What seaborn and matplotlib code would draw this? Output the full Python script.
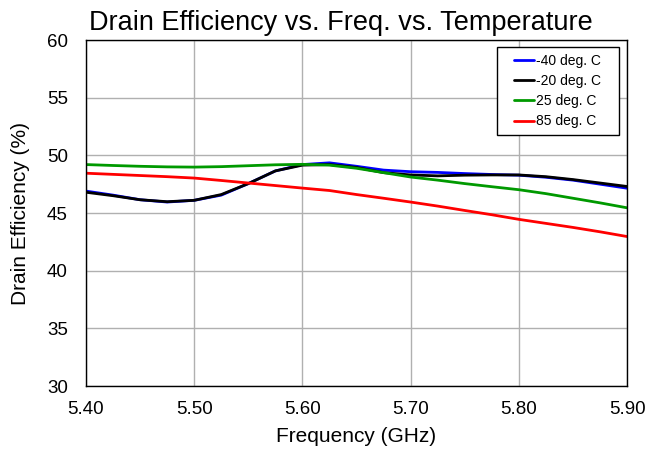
import matplotlib
matplotlib.use("Agg")
import matplotlib.pyplot as plt
from matplotlib.patches import Rectangle
import seaborn as sns
import pandas as pd

freq = [5.400, 5.425, 5.450, 5.475, 5.500, 5.525, 5.550, 5.575, 5.600, 5.625, 5.650,
        5.675, 5.700, 5.725, 5.750, 5.775, 5.800, 5.825, 5.850, 5.875, 5.900]
eff_m40 = [46.9, 46.55, 46.15, 45.95, 46.1, 46.55, 47.55, 48.65, 49.2, 49.35, 49.05,
           48.72, 48.58, 48.52, 48.42, 48.34, 48.28, 48.1, 47.85, 47.5, 47.15]
eff_m20 = [46.8, 46.5, 46.15, 45.98, 46.1, 46.6, 47.55, 48.65, 49.15, 49.2, 48.95,
           48.5, 48.3, 48.22, 48.28, 48.3, 48.3, 48.15, 47.9, 47.6, 47.3]
eff_25 = [49.2, 49.12, 49.05, 49.0, 48.98, 49.02, 49.1, 49.18, 49.22, 49.15, 48.88,
          48.5, 48.12, 47.85, 47.55, 47.28, 47.02, 46.68, 46.28, 45.88, 45.45]
eff_85 = [48.45, 48.35, 48.25, 48.15, 48.03, 47.82, 47.6, 47.38, 47.16, 46.95, 46.6,
          46.28, 45.95, 45.6, 45.22, 44.85, 44.45, 44.1, 43.75, 43.37, 42.96]

labels = ['-40 deg. C', '-20 deg. C', '25 deg. C', '85 deg. C']
colors = ['#0000ff', '#000000', '#009900', '#ff0000']
xticks = ['5.40', '5.50', '5.60', '5.70', '5.80', '5.90']

rows = []
for lab, vals in zip(labels, [eff_m40, eff_m20, eff_25, eff_85]):
    for f, v in zip(freq, vals):
        rows.append({'Frequency': f, 'Efficiency': v, 'Temp': lab})
df = pd.DataFrame(rows)

sns.set_style('white')
plt.rcParams['font.family'] = ['Liberation Sans', 'DejaVu Sans']
for k in ['text.color', 'axes.labelcolor', 'xtick.color', 'ytick.color']:
    plt.rcParams[k] = 'black'

fig = plt.figure(figsize=(6.48, 4.49), dpi=100)
ax = fig.add_axes([0.1327, 0.1403, 0.835, 0.7706])

sns.lineplot(data=df, x='Frequency', y='Efficiency', hue='Temp',
             palette=dict(zip(labels, colors)), linewidth=2, ax=ax, legend=True)

ax.set_xlim(5.40, 5.90)
ax.set_ylim(30, 60)
ax.set_xticks([float(t) for t in xticks])
ax.set_xticklabels(xticks)
ax.set_yticks(range(30, 61, 5))
ax.tick_params(axis='x', labelsize=13.5, length=0, pad=11)
ax.tick_params(axis='y', labelsize=13.5, length=0, pad=13)
ax.grid(True, color='#b0b0b0', linewidth=1)
for s in ax.spines.values():
    s.set_color('black')
    s.set_linewidth(1)

fig.text(0.526, 0.934, 'Drain Efficiency vs. Freq. vs. Temperature',
         fontsize=19.5, ha='center', va='baseline')
ax.set_xlabel('Frequency (GHz)', fontsize=15)
ax.set_ylabel('Drain Efficiency (%)', fontsize=15)
ax.xaxis.set_label_coords(0.5, -0.118)
ax.yaxis.set_label_coords(-0.104, 0.5)

# legend box
ax.add_patch(Rectangle((0.760, 0.725), 0.225, 0.255, transform=ax.transAxes,
                       facecolor='white', edgecolor='black', linewidth=1, zorder=4))
leg = ax.legend(loc='center', bbox_to_anchor=(0.8715, 0.8525), fontsize=10,
                frameon=False, handlelength=1.45, handletextpad=0.1,
                labelspacing=0.45, borderpad=0)
leg.set_zorder(5)

fig.savefig('out.png', dpi=100)
